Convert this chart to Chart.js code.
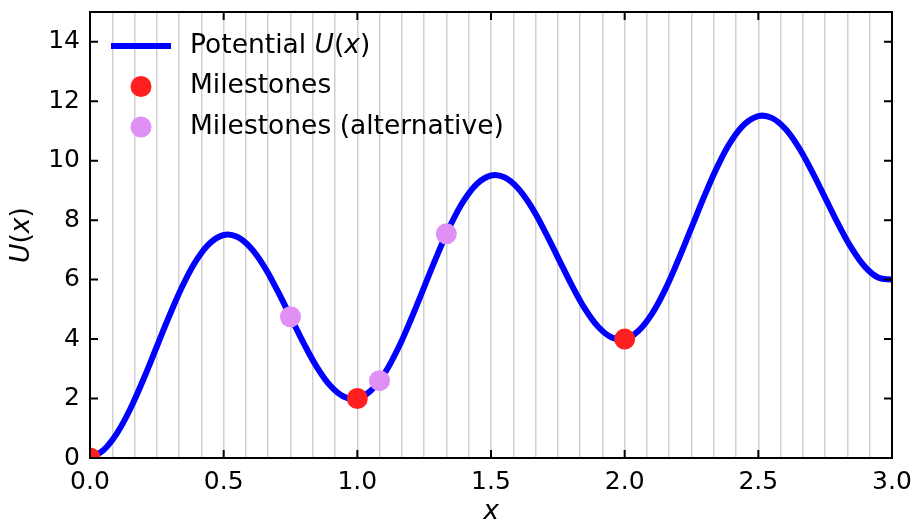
<!DOCTYPE html>
<html>
<head>
<meta charset="utf-8">
<script src="https://cdn.jsdelivr.net/npm/chart.js@4"></script>
<style>
    html, body { margin: 0; padding: 0; background: #fff; }
    #wrap { width: 915px; height: 524px; }
</style>
</head>
<body>
<div id="wrap"><canvas id="chart" width="915" height="524"></canvas></div>
<script>
// potential curve, every 0.05
const xs = [
    0.00, 0.05, 0.10, 0.15, 0.20, 0.25, 0.30, 0.35, 0.40, 0.45,
    0.50, 0.55, 0.60, 0.65, 0.70, 0.75, 0.80, 0.85, 0.90, 0.95,
    1.00, 1.05, 1.10, 1.15, 1.20, 1.25, 1.30, 1.35, 1.40, 1.45,
    1.50, 1.55, 1.60, 1.65, 1.70, 1.75, 1.80, 1.85, 1.90, 1.95,
    2.00, 2.05, 2.10, 2.15, 2.20, 2.25, 2.30, 2.35, 2.40, 2.45,
    2.50, 2.55, 2.60, 2.65, 2.70, 2.75, 2.80, 2.85, 2.90, 2.95,
    3.00
];
const potential = [
    0.00, 0.26, 0.82, 1.64, 2.65, 3.75, 4.85, 5.86, 6.68, 7.24,
    7.50, 7.44, 7.08, 6.46, 5.65, 4.75, 3.85, 3.04, 2.42, 2.06,
    2.00, 2.26, 2.82, 3.64, 4.65, 5.75, 6.85, 7.86, 8.68, 9.24,
    9.50, 9.44, 9.08, 8.46, 7.65, 6.75, 5.85, 5.04, 4.42, 4.06,
    4.00, 4.26, 4.82, 5.64, 6.65, 7.75, 8.85, 9.86, 10.68, 11.24,
    11.50, 11.44, 11.08, 10.46, 9.65, 8.75, 7.85, 7.04, 6.42, 6.06,
    6.00
];

const milestoneX = [0, 1, 2];
const milestoneU = [0, 2, 4];
const altX = [0.75, 1.083, 1.333];
const altU = [4.75, 2.60, 7.54];

const xTickLabels = [0, 0.5, 1, 1.5, 2, 2.5, 3];
const yTickLabels = [0, 2, 4, 6, 8, 10, 12, 14];

const FONT = "'DejaVu Sans', 'Liberation Sans', sans-serif";
const FS = 26.5;    // legend + axis titles
const TICK_FS = 25;

// text with the math letters U and x in italics
function mathParts(text) {
    const i = text.indexOf("U(x)");
    if (i < 0) return [[text, false]];
    return [[text.slice(0, i), false], ["U", true], ["(", false], ["x", true], [")", false]];
}
function drawParts(ctx, parts, x, y, align) {
    let total = 0;
    const widths = parts.map(([t, it]) => {
        ctx.font = `${it ? "italic " : ""}${FS}px ${FONT}`;
        const w = ctx.measureText(t).width;
        total += w;
        return w;
    });
    let cx = align === "center" ? x - total / 2 : x;
    ctx.textAlign = "left";
    ctx.textBaseline = "middle";
    parts.forEach(([t, it], k) => {
        ctx.font = `${it ? "italic " : ""}${FS}px ${FONT}`;
        ctx.fillText(t, cx, y);
        cx += widths[k];
    });
}

const framePlugin = {
    id: "frame",
    afterDatasetsDraw(chart) {
        const { ctx, chartArea: a, scales } = chart;
        ctx.save();
        ctx.strokeStyle = "#000";
        ctx.lineWidth = 2;
        ctx.strokeRect(a.left, a.top, a.right - a.left, a.bottom - a.top);
        // inward ticks on all sides
        const len = 8;
        ctx.beginPath();
        xTickLabels.forEach(v => {
            const px = scales.x.getPixelForValue(v);
            ctx.moveTo(px, a.bottom); ctx.lineTo(px, a.bottom - len);
            ctx.moveTo(px, a.top); ctx.lineTo(px, a.top + len);
        });
        yTickLabels.forEach(v => {
            const py = scales.y.getPixelForValue(v);
            ctx.moveTo(a.left, py); ctx.lineTo(a.left + len, py);
            ctx.moveTo(a.right, py); ctx.lineTo(a.right - len, py);
        });
        ctx.stroke();

        // legend, top left inside the axes
        chart.data.datasets.forEach((ds, k) => {
            const y = 46 + k * 40.5;
            if (ds.showLine) {
                ctx.strokeStyle = ds.borderColor;
                ctx.lineWidth = ds.borderWidth;
                ctx.beginPath();
                ctx.moveTo(111, y); ctx.lineTo(171, y);
                ctx.stroke();
            } else {
                ctx.fillStyle = ds.backgroundColor;
                ctx.beginPath();
                ctx.arc(141, y, ds.pointRadius, 0, Math.PI * 2);
                ctx.fill();
            }
            ctx.fillStyle = "#000";
            drawParts(ctx, mathParts(ds.label), 190, y, "left");
        });

        // axis titles
        drawParts(ctx, [["x", true]], (a.left + a.right) / 2, 512, "center");
        ctx.translate(22, (a.top + a.bottom) / 2);
        ctx.rotate(-Math.PI / 2);
        drawParts(ctx, mathParts("U(x)"), 0, 0, "center");
        ctx.restore();
    }
};

new Chart(document.getElementById("chart"), {
    type: "scatter",
    data: {
        datasets: [
            {
                label: "Potential U(x)",
                data: xs.map((x, i) => ({ x: x, y: potential[i] })),
                showLine: true,
                borderColor: "#0000ff",
                borderWidth: 6,
                pointRadius: 0,
                tension: 0.4,
                order: 3
            },
            {
                label: "Milestones",
                data: milestoneX.map((x, i) => ({ x: x, y: milestoneU[i] })),
                backgroundColor: "#ff1f1f",
                borderWidth: 0,
                pointRadius: 10.5,
                clip: 0,
                order: 2
            },
            {
                label: "Milestones (alternative)",
                data: altX.map((x, i) => ({ x: x, y: altU[i] })),
                backgroundColor: "#e08ff5",
                borderWidth: 0,
                pointRadius: 10.5,
                clip: 0,
                order: 1
            }
        ]
    },
    options: {
        responsive: false,
        animation: false,
        layout: { padding: { left: 0, right: 23, top: 12, bottom: 0 } },
        plugins: {
            legend: { display: false },
            tooltip: { enabled: false }
        },
        scales: {
            x: {
                type: "linear",
                min: 0,
                max: 3,
                afterBuildTicks: s => {
                    s.ticks = [];
                    for (let k = 0; k <= 36; k++) s.ticks.push({ value: k / 12 });
                },
                afterFit: s => {
                    s.height = 66;
                    s.paddingLeft = 0;
                    s.paddingRight = 0;
                },
                border: { display: false },
                grid: { color: "#d0d0d0", lineWidth: 1.5, drawTicks: false },
                ticks: {
                    autoSkip: false,
                    maxRotation: 0,
                    padding: 9,
                    color: "#000",
                    font: { family: FONT, size: TICK_FS },
                    callback: v => {
                        const t = xTickLabels.find(l => Math.abs(l - v) < 1e-6);
                        return t === undefined ? "" : t.toFixed(1);
                    }
                }
            },
            y: {
                type: "linear",
                min: 0,
                max: 15,
                afterBuildTicks: s => { s.ticks = yTickLabels.map(v => ({ value: v })); },
                afterFit: s => {
                    s.width = 90;
                    s.paddingTop = 0;
                    s.paddingBottom = 0;
                },
                border: { display: false },
                grid: { display: false, drawTicks: false },
                ticks: {
                    padding: 10,
                    color: "#000",
                    font: { family: FONT, size: TICK_FS }
                }
            }
        }
    },
    plugins: [framePlugin]
});
</script>
</body>
</html>
